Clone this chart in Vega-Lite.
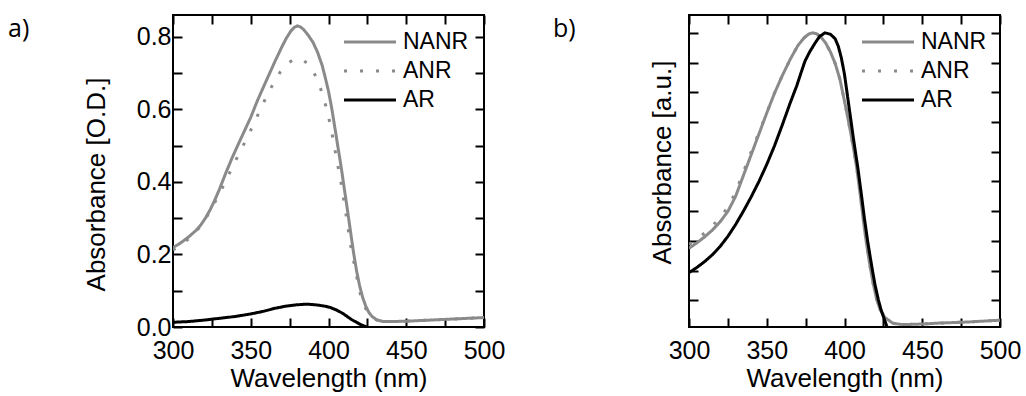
{
  "$schema": "https://vega.github.io/schema/vega-lite/v6.json",
  "padding": {"left": 7, "top": 13, "right": 0, "bottom": 0},
  "background": "white",
  "bounds": "flush",
  "spacing": 205,
  "datasets": {
    "a": [
      {"series": "NANR", "wl": 300, "abs": 0.219}, {"series": "NANR", "wl": 305, "abs": 0.232}, {"series": "NANR", "wl": 310, "abs": 0.248}, {"series": "NANR", "wl": 315, "abs": 0.267}, {"series": "NANR", "wl": 318, "abs": 0.282}, {"series": "NANR", "wl": 321, "abs": 0.301}, {"series": "NANR", "wl": 324, "abs": 0.324}, {"series": "NANR", "wl": 327, "abs": 0.351}, {"series": "NANR", "wl": 330, "abs": 0.381}, {"series": "NANR", "wl": 334, "abs": 0.425}, {"series": "NANR", "wl": 338, "abs": 0.466}, {"series": "NANR", "wl": 342, "abs": 0.504}, {"series": "NANR", "wl": 346, "abs": 0.541}, {"series": "NANR", "wl": 350, "abs": 0.578}, {"series": "NANR", "wl": 354, "abs": 0.621}, {"series": "NANR", "wl": 358, "abs": 0.66}, {"series": "NANR", "wl": 362, "abs": 0.698}, {"series": "NANR", "wl": 366, "abs": 0.736}, {"series": "NANR", "wl": 370, "abs": 0.772}, {"series": "NANR", "wl": 373, "abs": 0.797}, {"series": "NANR", "wl": 376, "abs": 0.817}, {"series": "NANR", "wl": 378, "abs": 0.826}, {"series": "NANR", "wl": 380, "abs": 0.83}, {"series": "NANR", "wl": 382, "abs": 0.827}, {"series": "NANR", "wl": 384, "abs": 0.82}, {"series": "NANR", "wl": 387, "abs": 0.804}, {"series": "NANR", "wl": 390, "abs": 0.785}, {"series": "NANR", "wl": 393, "abs": 0.757}, {"series": "NANR", "wl": 396, "abs": 0.72}, {"series": "NANR", "wl": 398, "abs": 0.686}, {"series": "NANR", "wl": 400, "abs": 0.65}, {"series": "NANR", "wl": 402, "abs": 0.605}, {"series": "NANR", "wl": 404, "abs": 0.552}, {"series": "NANR", "wl": 406, "abs": 0.498}, {"series": "NANR", "wl": 408, "abs": 0.445}, {"series": "NANR", "wl": 410, "abs": 0.386}, {"series": "NANR", "wl": 412, "abs": 0.328}, {"series": "NANR", "wl": 414, "abs": 0.268}, {"series": "NANR", "wl": 416, "abs": 0.208}, {"series": "NANR", "wl": 418, "abs": 0.156}, {"series": "NANR", "wl": 420, "abs": 0.114}, {"series": "NANR", "wl": 422, "abs": 0.081}, {"series": "NANR", "wl": 424, "abs": 0.057}, {"series": "NANR", "wl": 426, "abs": 0.04}, {"series": "NANR", "wl": 428, "abs": 0.029}, {"series": "NANR", "wl": 431, "abs": 0.02}, {"series": "NANR", "wl": 435, "abs": 0.015}, {"series": "NANR", "wl": 440, "abs": 0.015}, {"series": "NANR", "wl": 450, "abs": 0.016}, {"series": "NANR", "wl": 460, "abs": 0.018}, {"series": "NANR", "wl": 470, "abs": 0.02}, {"series": "NANR", "wl": 480, "abs": 0.022}, {"series": "NANR", "wl": 490, "abs": 0.024}, {"series": "NANR", "wl": 500, "abs": 0.026},
      {"series": "ANR", "wl": 300, "abs": 0.212}, {"series": "ANR", "wl": 305, "abs": 0.226}, {"series": "ANR", "wl": 310, "abs": 0.243}, {"series": "ANR", "wl": 315, "abs": 0.264}, {"series": "ANR", "wl": 319, "abs": 0.286}, {"series": "ANR", "wl": 323, "abs": 0.313}, {"series": "ANR", "wl": 328, "abs": 0.352}, {"series": "ANR", "wl": 333, "abs": 0.394}, {"series": "ANR", "wl": 337, "abs": 0.43}, {"series": "ANR", "wl": 342, "abs": 0.474}, {"series": "ANR", "wl": 347, "abs": 0.516}, {"series": "ANR", "wl": 352, "abs": 0.56}, {"series": "ANR", "wl": 356, "abs": 0.598}, {"series": "ANR", "wl": 361, "abs": 0.643}, {"series": "ANR", "wl": 365, "abs": 0.675}, {"series": "ANR", "wl": 369, "abs": 0.703}, {"series": "ANR", "wl": 373, "abs": 0.724}, {"series": "ANR", "wl": 377, "abs": 0.736}, {"series": "ANR", "wl": 380, "abs": 0.739}, {"series": "ANR", "wl": 383, "abs": 0.737}, {"series": "ANR", "wl": 386, "abs": 0.728}, {"series": "ANR", "wl": 389, "abs": 0.712}, {"series": "ANR", "wl": 392, "abs": 0.69}, {"series": "ANR", "wl": 395, "abs": 0.656}, {"series": "ANR", "wl": 398, "abs": 0.614}, {"series": "ANR", "wl": 400, "abs": 0.58}, {"series": "ANR", "wl": 402, "abs": 0.539}, {"series": "ANR", "wl": 404, "abs": 0.492}, {"series": "ANR", "wl": 406, "abs": 0.445}, {"series": "ANR", "wl": 408, "abs": 0.4}, {"series": "ANR", "wl": 410, "abs": 0.345}, {"series": "ANR", "wl": 412, "abs": 0.29}, {"series": "ANR", "wl": 414, "abs": 0.23}, {"series": "ANR", "wl": 416.5, "abs": 0.175}, {"series": "ANR", "wl": 418.5, "abs": 0.13}, {"series": "ANR", "wl": 420.5, "abs": 0.09}, {"series": "ANR", "wl": 422, "abs": 0.07}, {"series": "ANR", "wl": 424, "abs": 0.05}, {"series": "ANR", "wl": 426, "abs": 0.037}, {"series": "ANR", "wl": 428, "abs": 0.028}, {"series": "ANR", "wl": 431, "abs": 0.019}, {"series": "ANR", "wl": 435, "abs": 0.015}, {"series": "ANR", "wl": 440, "abs": 0.015}, {"series": "ANR", "wl": 450, "abs": 0.016}, {"series": "ANR", "wl": 460, "abs": 0.018}, {"series": "ANR", "wl": 470, "abs": 0.02}, {"series": "ANR", "wl": 480, "abs": 0.022}, {"series": "ANR", "wl": 490, "abs": 0.024}, {"series": "ANR", "wl": 500, "abs": 0.026},
      {"series": "AR", "wl": 300, "abs": 0.013}, {"series": "AR", "wl": 310, "abs": 0.015}, {"series": "AR", "wl": 320, "abs": 0.019}, {"series": "AR", "wl": 330, "abs": 0.024}, {"series": "AR", "wl": 340, "abs": 0.029}, {"series": "AR", "wl": 350, "abs": 0.036}, {"series": "AR", "wl": 358, "abs": 0.043}, {"series": "AR", "wl": 365, "abs": 0.051}, {"series": "AR", "wl": 372, "abs": 0.057}, {"series": "AR", "wl": 379, "abs": 0.061}, {"series": "AR", "wl": 386, "abs": 0.063}, {"series": "AR", "wl": 392, "abs": 0.061}, {"series": "AR", "wl": 397, "abs": 0.058}, {"series": "AR", "wl": 401, "abs": 0.054}, {"series": "AR", "wl": 405, "abs": 0.047}, {"series": "AR", "wl": 409, "abs": 0.038}, {"series": "AR", "wl": 412, "abs": 0.029}, {"series": "AR", "wl": 415, "abs": 0.02}, {"series": "AR", "wl": 418, "abs": 0.013}, {"series": "AR", "wl": 421, "abs": 0.006}, {"series": "AR", "wl": 424.5, "abs": 0.0}, {"series": "AR", "wl": 428, "abs": -0.006}
    ],
    "b": [
      {"series": "NANR", "wl": 300, "abs": 0.275}, {"series": "NANR", "wl": 305, "abs": 0.293}, {"series": "NANR", "wl": 310, "abs": 0.313}, {"series": "NANR", "wl": 315, "abs": 0.336}, {"series": "NANR", "wl": 320, "abs": 0.364}, {"series": "NANR", "wl": 325, "abs": 0.399}, {"series": "NANR", "wl": 330, "abs": 0.45}, {"series": "NANR", "wl": 335, "abs": 0.52}, {"series": "NANR", "wl": 340, "abs": 0.59}, {"series": "NANR", "wl": 345, "abs": 0.66}, {"series": "NANR", "wl": 350, "abs": 0.73}, {"series": "NANR", "wl": 355, "abs": 0.797}, {"series": "NANR", "wl": 360, "abs": 0.856}, {"series": "NANR", "wl": 365, "abs": 0.91}, {"series": "NANR", "wl": 370, "abs": 0.957}, {"series": "NANR", "wl": 374, "abs": 0.983}, {"series": "NANR", "wl": 377, "abs": 0.996}, {"series": "NANR", "wl": 379.5, "abs": 1.0}, {"series": "NANR", "wl": 382, "abs": 0.997}, {"series": "NANR", "wl": 385, "abs": 0.985}, {"series": "NANR", "wl": 388, "abs": 0.965}, {"series": "NANR", "wl": 391, "abs": 0.935}, {"series": "NANR", "wl": 394, "abs": 0.897}, {"series": "NANR", "wl": 397, "abs": 0.845}, {"series": "NANR", "wl": 400, "abs": 0.77}, {"series": "NANR", "wl": 402, "abs": 0.718}, {"series": "NANR", "wl": 404, "abs": 0.663}, {"series": "NANR", "wl": 406, "abs": 0.605}, {"series": "NANR", "wl": 408, "abs": 0.54}, {"series": "NANR", "wl": 410, "abs": 0.46}, {"series": "NANR", "wl": 412, "abs": 0.375}, {"series": "NANR", "wl": 414, "abs": 0.295}, {"series": "NANR", "wl": 416.4, "abs": 0.215}, {"series": "NANR", "wl": 418.5, "abs": 0.155}, {"series": "NANR", "wl": 420.7, "abs": 0.103}, {"series": "NANR", "wl": 423, "abs": 0.067}, {"series": "NANR", "wl": 426, "abs": 0.042}, {"series": "NANR", "wl": 431, "abs": 0.023}, {"series": "NANR", "wl": 437, "abs": 0.018}, {"series": "NANR", "wl": 450, "abs": 0.02}, {"series": "NANR", "wl": 460, "abs": 0.023}, {"series": "NANR", "wl": 470, "abs": 0.025}, {"series": "NANR", "wl": 480, "abs": 0.027}, {"series": "NANR", "wl": 490, "abs": 0.03}, {"series": "NANR", "wl": 500, "abs": 0.033},
      {"series": "ANR", "wl": 300, "abs": 0.288}, {"series": "ANR", "wl": 305, "abs": 0.306}, {"series": "ANR", "wl": 310, "abs": 0.326}, {"series": "ANR", "wl": 315, "abs": 0.35}, {"series": "ANR", "wl": 320, "abs": 0.378}, {"series": "ANR", "wl": 325, "abs": 0.413}, {"series": "ANR", "wl": 330, "abs": 0.464}, {"series": "ANR", "wl": 335, "abs": 0.532}, {"series": "ANR", "wl": 340, "abs": 0.6}, {"series": "ANR", "wl": 345, "abs": 0.665}, {"series": "ANR", "wl": 350, "abs": 0.731}, {"series": "ANR", "wl": 355, "abs": 0.797}, {"series": "ANR", "wl": 360, "abs": 0.856}, {"series": "ANR", "wl": 365, "abs": 0.91}, {"series": "ANR", "wl": 370, "abs": 0.957}, {"series": "ANR", "wl": 374, "abs": 0.983}, {"series": "ANR", "wl": 377, "abs": 0.996}, {"series": "ANR", "wl": 379.5, "abs": 1.0}, {"series": "ANR", "wl": 382, "abs": 0.997}, {"series": "ANR", "wl": 385, "abs": 0.985}, {"series": "ANR", "wl": 388, "abs": 0.965}, {"series": "ANR", "wl": 391, "abs": 0.935}, {"series": "ANR", "wl": 394, "abs": 0.897}, {"series": "ANR", "wl": 397, "abs": 0.845}, {"series": "ANR", "wl": 400, "abs": 0.77}, {"series": "ANR", "wl": 402, "abs": 0.718}, {"series": "ANR", "wl": 404, "abs": 0.663}, {"series": "ANR", "wl": 406, "abs": 0.605}, {"series": "ANR", "wl": 408, "abs": 0.54}, {"series": "ANR", "wl": 410, "abs": 0.46}, {"series": "ANR", "wl": 412, "abs": 0.375}, {"series": "ANR", "wl": 414, "abs": 0.295}, {"series": "ANR", "wl": 416.4, "abs": 0.215}, {"series": "ANR", "wl": 418.5, "abs": 0.155}, {"series": "ANR", "wl": 420.7, "abs": 0.103}, {"series": "ANR", "wl": 423, "abs": 0.067}, {"series": "ANR", "wl": 426, "abs": 0.042}, {"series": "ANR", "wl": 431, "abs": 0.023}, {"series": "ANR", "wl": 437, "abs": 0.018}, {"series": "ANR", "wl": 450, "abs": 0.02}, {"series": "ANR", "wl": 460, "abs": 0.023}, {"series": "ANR", "wl": 470, "abs": 0.025}, {"series": "ANR", "wl": 480, "abs": 0.027}, {"series": "ANR", "wl": 490, "abs": 0.03}, {"series": "ANR", "wl": 500, "abs": 0.033},
      {"series": "AR", "wl": 300, "abs": 0.193}, {"series": "AR", "wl": 305, "abs": 0.21}, {"series": "AR", "wl": 310, "abs": 0.23}, {"series": "AR", "wl": 315, "abs": 0.253}, {"series": "AR", "wl": 320, "abs": 0.281}, {"series": "AR", "wl": 325, "abs": 0.315}, {"series": "AR", "wl": 330, "abs": 0.355}, {"series": "AR", "wl": 335, "abs": 0.4}, {"series": "AR", "wl": 340, "abs": 0.448}, {"series": "AR", "wl": 345, "abs": 0.5}, {"series": "AR", "wl": 350, "abs": 0.557}, {"series": "AR", "wl": 355, "abs": 0.62}, {"series": "AR", "wl": 360, "abs": 0.69}, {"series": "AR", "wl": 365, "abs": 0.763}, {"series": "AR", "wl": 369.3, "abs": 0.822}, {"series": "AR", "wl": 372, "abs": 0.865}, {"series": "AR", "wl": 374.6, "abs": 0.905}, {"series": "AR", "wl": 377.5, "abs": 0.935}, {"series": "AR", "wl": 381, "abs": 0.965}, {"series": "AR", "wl": 384, "abs": 0.988}, {"series": "AR", "wl": 387.5, "abs": 1.0}, {"series": "AR", "wl": 391, "abs": 0.995}, {"series": "AR", "wl": 394, "abs": 0.98}, {"series": "AR", "wl": 396, "abs": 0.955}, {"series": "AR", "wl": 398, "abs": 0.915}, {"series": "AR", "wl": 400, "abs": 0.86}, {"series": "AR", "wl": 402, "abs": 0.785}, {"series": "AR", "wl": 404, "abs": 0.71}, {"series": "AR", "wl": 406, "abs": 0.635}, {"series": "AR", "wl": 408.6, "abs": 0.545}, {"series": "AR", "wl": 411, "abs": 0.45}, {"series": "AR", "wl": 412.9, "abs": 0.372}, {"series": "AR", "wl": 415, "abs": 0.295}, {"series": "AR", "wl": 417.5, "abs": 0.215}, {"series": "AR", "wl": 419.5, "abs": 0.155}, {"series": "AR", "wl": 421.7, "abs": 0.103}, {"series": "AR", "wl": 423.5, "abs": 0.068}, {"series": "AR", "wl": 425, "abs": 0.045}, {"series": "AR", "wl": 427.1, "abs": 0.014}, {"series": "AR", "wl": 429, "abs": -0.01}
    ]
  },
  "hconcat": [
    {
      "title": {"text": "a)", "dx": -165, "dy": 32},
      "width": 311,
      "height": 312,
      "data": {"name": "a"},
      "layer": [
        {
          "mark": {"type": "line", "strokeWidth": 3, "clip": true},
          "encoding": {
            "x": {"field": "wl", "type": "quantitative", "scale": {"domain": [300, 500], "nice": false, "zero": false},
              "axis": {"orient": "bottom", "values": [300, 325, 350, 375, 400, 425, 450, 475, 500], "labelExpr": "datum.value % 50 === 0 ? datum.label : ''", "format": "d", "labelPadding": 20, "title": "Wavelength (nm)", "titlePadding": 2}},
            "y": {"field": "abs", "type": "quantitative", "scale": {"domain": [0, 0.86], "nice": false, "zero": false},
              "axis": {"orient": "left", "values": [0, 0.1, 0.2, 0.3, 0.4, 0.5, 0.6, 0.7, 0.8], "format": ".1f", "labelExpr": "indexof(['0.0','0.2','0.4','0.6','0.8'], datum.label) >= 0 ? datum.label : ''", "labelPadding": 11, "title": "Absorbance [O.D.]", "titlePadding": 27, "titleY": 169}},
            "color": {"field": "series", "type": "nominal", "scale": {"domain": ["NANR", "ANR", "AR"], "range": ["#8a8a8a", "#8a8a8a", "#000000"]},
              "legend": {"orient": "none", "legendX": 185, "legendY": 15, "title": null}},
            "strokeDash": {"field": "series", "type": "nominal", "scale": {"domain": ["NANR", "ANR", "AR"], "range": [[1, 0], [3, 13], [1, 0]]},
              "legend": {"orient": "none", "legendX": 185, "legendY": 15, "title": null}}
          }
        },
        {
          "mark": {"type": "point", "opacity": 0},
          "encoding": {
            "x": {"field": "wl", "type": "quantitative", "axis": {"orient": "top", "values": [300, 325, 350, 375, 400, 425, 450, 475, 500], "labels": false, "title": null}},
            "y": {"field": "abs", "type": "quantitative", "axis": {"orient": "right", "values": [0, 0.1, 0.2, 0.3, 0.4, 0.5, 0.6, 0.7, 0.8], "labels": false, "title": null}}
          }
        }
      ],
      "resolve": {"axis": {"x": "independent", "y": "independent"}}
    },
    {
      "title": {"text": "b)", "dx": -136, "dy": 32},
      "width": 311,
      "height": 312,
      "data": {"name": "b"},
      "layer": [
        {
          "mark": {"type": "line", "strokeWidth": 3, "clip": true},
          "encoding": {
            "x": {"field": "wl", "type": "quantitative", "scale": {"domain": [300, 500], "nice": false, "zero": false},
              "axis": {"orient": "bottom", "values": [300, 325, 350, 375, 400, 425, 450, 475, 500], "labelExpr": "datum.value % 50 === 0 ? datum.label : ''", "format": "d", "labelPadding": 20, "title": "Wavelength (nm)", "titlePadding": 2}},
            "y": {"field": "abs", "type": "quantitative", "scale": {"domain": [0.01, 1.06], "nice": false, "zero": false},
              "axis": {"orient": "left", "values": [0.1, 0.2, 0.3, 0.4, 0.5, 0.6, 0.7, 0.8, 0.9, 1.0], "labels": false, "title": "Absorbance [a.u.]", "titlePadding": 13, "titleY": 147}},
            "color": {"field": "series", "type": "nominal", "scale": {"domain": ["NANR", "ANR", "AR"], "range": ["#8a8a8a", "#8a8a8a", "#000000"]},
              "legend": {"orient": "none", "legendX": 187, "legendY": 15, "title": null}},
            "strokeDash": {"field": "series", "type": "nominal", "scale": {"domain": ["NANR", "ANR", "AR"], "range": [[1, 0], [3, 13], [1, 0]]},
              "legend": {"orient": "none", "legendX": 187, "legendY": 15, "title": null}}
          }
        },
        {
          "mark": {"type": "point", "opacity": 0},
          "encoding": {
            "x": {"field": "wl", "type": "quantitative", "axis": {"orient": "top", "values": [300, 325, 350, 375, 400, 425, 450, 475, 500], "labels": false, "title": null}},
            "y": {"field": "abs", "type": "quantitative", "axis": {"orient": "right", "values": [0.1, 0.2, 0.3, 0.4, 0.5, 0.6, 0.7, 0.8, 0.9, 1.0], "labels": false, "title": null}}
          }
        }
      ],
      "resolve": {"axis": {"x": "independent", "y": "independent"}}
    }
  ],
  "resolve": {"scale": {"color": "independent", "strokeDash": "independent"}, "legend": {"color": "independent", "strokeDash": "independent"}},
  "config": {
    "view": {"stroke": "black", "strokeWidth": 2},
    "axis": {"grid": false, "domain": false, "tickColor": "black", "tickWidth": 2, "tickSize": -9, "labelFont": "Liberation Sans", "labelFontSize": 25, "labelColor": "black", "titleFont": "Liberation Sans", "titleFontSize": 26, "titleFontWeight": "normal", "titleColor": "black", "labelFlush": false, "labelOverlap": false},
    "legend": {"padding": 0, "symbolType": "M-2.5,0H2.5", "symbolSize": 433, "symbolStrokeWidth": 3, "labelFont": "Liberation Sans", "labelFontSize": 23, "labelColor": "black", "labelOffset": 21, "rowPadding": 5, "symbolFillColor": "transparent"},
    "title": {"font": "Open Sans", "fontSize": 25, "fontWeight": "normal", "color": "black", "anchor": "start", "frame": "group", "offset": 0, "baseline": "alphabetic"}
  }
}
